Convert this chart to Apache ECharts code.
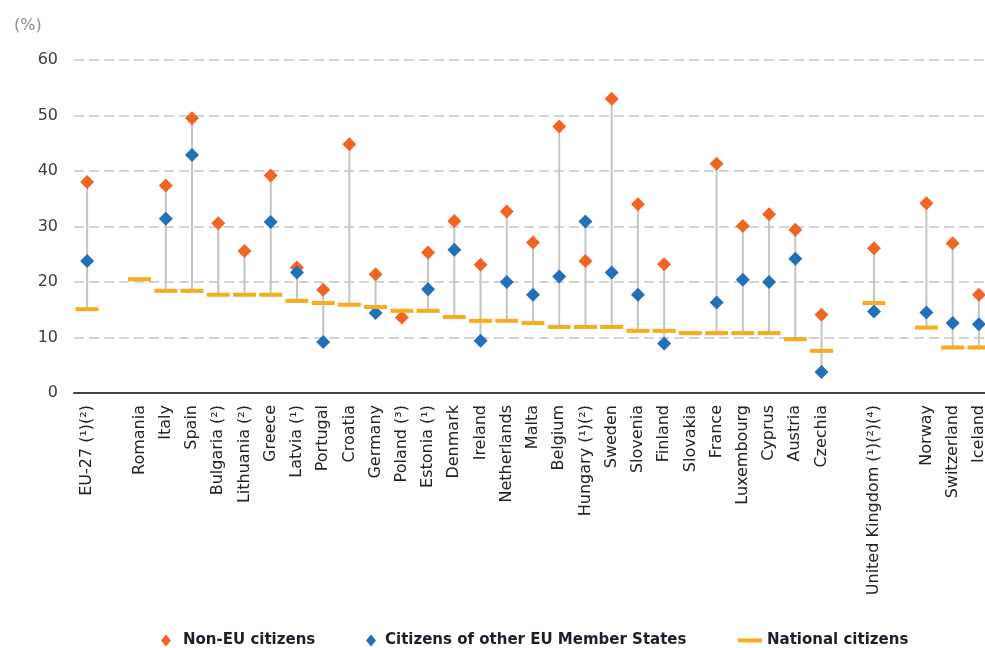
<!DOCTYPE html>
<html>
<head>
<meta charset="utf-8">
<script src="https://cdn.jsdelivr.net/npm/echarts@6/dist/echarts.min.js"></script>
<style>
  html, body { margin: 0; padding: 0; background: #fff; }
  #chart { width: 985px; height: 648px; }
</style>
</head>
<body>
<div id="chart"></div>
<script>
// categories (blank entries are the gaps between groups)
const categories = ['EU-27 (¹)(²)', '', 'Romania', 'Italy', 'Spain', 'Bulgaria (²)', 'Lithuania (²)', 'Greece',
  'Latvia (¹)', 'Portugal', 'Croatia', 'Germany', 'Poland (³)', 'Estonia (¹)', 'Denmark', 'Ireland',
  'Netherlands', 'Malta', 'Belgium', 'Hungary (¹)(²)', 'Sweden', 'Slovenia', 'Finland', 'Slovakia',
  'France', 'Luxembourg', 'Cyprus', 'Austria', 'Czechia', ' ', 'United Kingdom (¹)(²)(⁴)', '  ',
  'Norway', 'Switzerland', 'Iceland'];

const nonEU = [38.0, '-', '-', 37.4, 49.5, 30.6, 25.6, 39.2, 22.6, 18.6, 44.8, 21.4, 13.6, 25.3, 31.0, 23.1,
  32.7, 27.1, 48.0, 23.8, 53.0, 34.0, 23.2, '-', 41.3, 30.1, 32.2, 29.4, 14.1, '-', 26.1, '-', 34.2, 27.0, 17.7];

const otherEU = [23.8, '-', '-', 31.4, 42.9, '-', '-', 30.8, 21.7, 9.2, '-', 14.4, '-', 18.7, 25.8, 9.4,
  20.0, 17.7, 21.0, 30.9, 21.7, 17.7, 8.9, '-', 16.3, 20.4, 20.0, 24.2, 3.8, '-', 14.7, '-', 14.5, 12.6, 12.4];

const national = [15.1, '-', 20.5, 18.4, 18.4, 17.7, 17.7, 17.7, 16.6, 16.2, 15.9, 15.5, 14.8, 14.8, 13.7, 13.0,
  13.0, 12.6, 11.9, 11.9, 11.9, 11.2, 11.2, 10.8, 10.8, 10.8, 10.8, 9.7, 7.6, '-', 16.2, '-', 11.8, 8.2, 8.2];

const yTicks = [0, 10, 20, 30, 40, 50, 60];

// range lines: from lowest to highest value of each country
const ranges = [];
categories.forEach(function (c, i) {
  const vals = [nonEU[i], otherEU[i], national[i]].filter(function (v) { return typeof v === 'number'; });
  if (vals.length > 1) ranges.push([i, Math.min.apply(null, vals), Math.max.apply(null, vals)]);
});

const FONT = 'DejaVu Sans';
const diamond = 'path://M5,0 L10,6 L5,12 L0,6 Z';

let myChart = echarts.init(document.getElementById('chart'));
var options = {
  animation: false,
  textStyle: { fontFamily: FONT },
  title: {
    text: '(%)', left: 9, top: 13,
    textStyle: { fontFamily: FONT, fontSize: 16, fontWeight: 'normal', color: '#8a8a8a' }
  },
  legend: [
    {
      data: [{ name: 'Non-EU citizens', icon: diamond }],
      left: 156, top: 628, itemWidth: 12, itemHeight: 12,
      textStyle: { fontFamily: FONT, fontSize: 15, fontWeight: 'bold', color: '#1e1e2a', padding: [0, 0, 0, 6] }
    },
    {
      data: [{ name: 'Citizens of other EU Member States', icon: diamond }],
      left: 361, top: 628, itemWidth: 12, itemHeight: 12,
      textStyle: { fontFamily: FONT, fontSize: 15, fontWeight: 'bold', color: '#1e1e2a', padding: [0, 0, 0, 3] }
    },
    {
      data: [{ name: 'National citizens', icon: 'rect' }],
      left: 733, top: 628, itemWidth: 24, itemHeight: 4,
      textStyle: { fontFamily: FONT, fontSize: 15, fontWeight: 'bold', color: '#1e1e2a' }
    }
  ],
  // the last category runs past the right edge, as in the source
  grid: { left: 74, top: 60, width: 918, height: 333, outerBoundsMode: 'none' },
  xAxis: {
    type: 'category',
    data: categories,
    axisLine: { lineStyle: { color: '#444', width: 2 } },
    axisTick: { length: 12, lineStyle: { color: '#444', width: 1.5 } },
    axisLabel: { interval: 0, rotate: 90, margin: 12, fontFamily: FONT, fontSize: 16, color: '#222' }
  },
  yAxis: {
    type: 'value',
    min: yTicks[0], max: yTicks[yTicks.length - 1], interval: 10,
    axisLine: { show: false },
    axisTick: { show: false },
    axisLabel: { margin: 16, fontFamily: FONT, fontSize: 16, color: '#3b3b4c' },
    splitLine: { lineStyle: { color: '#c6c6c6', width: 1.5, type: [10, 5] } }
  },
  series: [
    {
      name: 'range',
      type: 'custom',
      data: ranges,
      encode: { x: 0, y: [1, 2] },
      silent: true,
      renderItem: function (params, api) {
        const lo = api.coord([api.value(0), api.value(1)]);
        const hi = api.coord([api.value(0), api.value(2)]);
        return {
          type: 'line',
          shape: { x1: lo[0], y1: lo[1], x2: hi[0], y2: hi[1] },
          style: { stroke: '#c4c4c4', lineWidth: 2 }
        };
      }
    },
    {
      name: 'Non-EU citizens',
      type: 'scatter',
      symbol: 'diamond',
      symbolSize: 14,
      itemStyle: { color: '#f06424', opacity: 1 },
      data: nonEU
    },
    {
      name: 'Citizens of other EU Member States',
      type: 'scatter',
      symbol: 'diamond',
      symbolSize: 14,
      itemStyle: { color: '#2170b8', opacity: 1 },
      data: otherEU
    },
    {
      name: 'National citizens',
      type: 'scatter',
      symbol: 'rect',
      symbolSize: [23, 4],
      itemStyle: { color: '#fbaa1c', opacity: 1 },
      data: national
    }
  ]
};
myChart.setOption(options);
</script>
</body>
</html>
